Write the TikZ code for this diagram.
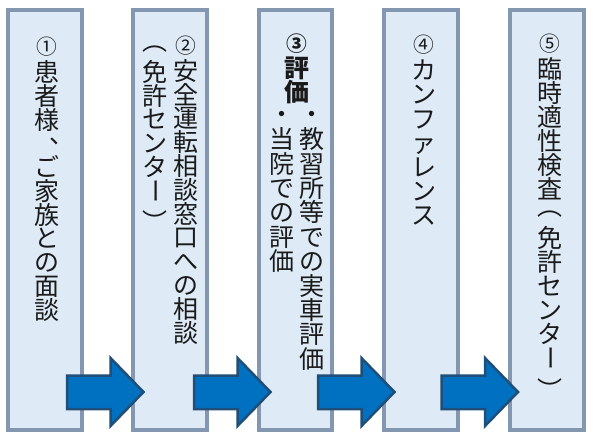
\documentclass[tikz,border=0pt]{standalone}
\usepackage{fontspec}
\usepackage{graphicx}
\newfontfamily\jp{Noto Sans CJK JP}
\definecolor{boxfill}{HTML}{DEEBF7}
\definecolor{boxborder}{HTML}{8497B0}
\definecolor{arrowfill}{HTML}{0070C0}
\definecolor{arrowborder}{HTML}{1F4E79}
\definecolor{textcol}{HTML}{1A1A1A}
\newcommand\vrot[1]{\rotatebox[origin=c]{-90}{#1}}
\newcommand\vbar{\raisebox{0.16em}{\vrot{ー}\hspace*{0.28em}}}
\newcommand\vopen{\raisebox{0.28em}{︵}}
\newcommand\vclose{\raisebox{-0.31em}{︶}}
\newcommand\vcomma{\raisebox{0.36em}{\hspace*{1.18em}、}}
\newcommand\cnum[1]{\raisebox{0.12em}{\scalebox{0.83}{#1}}}
\tikzset{
  stage/.style={draw=boxborder, fill=boxfill, line width=4pt, minimum width=73.5pt, minimum height=420pt, inner sep=0pt},
  vcol/.style={font=\jp\fontsize{25}{24}\selectfont, align=center, inner sep=0pt, anchor=north, text=textcol,
    execute at begin node={\setlength{\lineskiplimit}{-30pt}}},
  vdot/.style={font=\jp\fontsize{25}{24}\selectfont, inner sep=0pt, text=textcol},
  blockarrow/.style={draw=arrowborder, fill=arrowfill, line width=2.5pt, line join=miter}
}
\begin{document}
\begin{tikzpicture}[x=1pt,y=-1pt]
\useasboundingbox (0,0) rectangle (593,442);
% stages
\node[stage] (s1) at (45.2,220.3) {};
\node[stage] (s2) at (170,220.3) {};
\node[stage] (s3) at (295.5,220.3) {};
\node[stage] (s4) at (420.9,220.3) {};
\node[stage] (s5) at (547.2,220.3) {};
% texts
\node[vcol, font=\jp\fontsize{25}{23.75}\selectfont] (t1) at (47,36.75)
  {\vphantom{患}\cnum{①}\\患\\者\\様\\\vcomma\\ご\\家\\族\\と\\の\\面\\談};
\node[vcol, font=\jp\fontsize{25}{23.8}\selectfont] (t2a) at (186,35.2)
  {\vphantom{安}\cnum{②}\\安\\全\\運\\転\\相\\談\\窓\\口\\へ\\の\\相\\談};
\node[vcol, font=\jp\fontsize{25}{23.8}\selectfont] (t2b) at (155,36.2)
  {\vphantom{免}\vopen\\免\\許\\セ\\ン\\タ\\\vbar\\\vclose};
\node[vcol, font=\jp\bfseries\fontsize{25}{23.6}\selectfont] (t3) at (297,33.4)
  {\vphantom{評}\cnum{③}\\評\\価};
\node[vdot] (d3a) at (312,117) {・};
\node[vdot] (d3b) at (282,117) {・};
\node[vcol, font=\jp\fontsize{25}{24.4}\selectfont] (t3a) at (312,127.5)
  {教\\習\\所\\等\\で\\の\\実\\車\\評\\価};
\node[vcol, font=\jp\fontsize{25}{24.4}\selectfont] (t3b) at (282,127.5)
  {当\\院\\で\\の\\評\\価};
\node[vcol, font=\jp\fontsize{25}{24.2}\selectfont] (t4) at (424,34.8)
  {\vphantom{カ}\cnum{④}\\カ\\ン\\フ\\ァ\\レ\\ン\\ス};
\node[vcol, font=\jp\fontsize{25}{24.1}\selectfont] (t5) at (550,33)
  {\vphantom{臨}\cnum{⑤}\\臨\\時\\適\\性\\検\\査\\\vopen\\免\\許\\セ\\ン\\タ\\\vbar\\\vclose};
% arrows
\foreach \x in {67,194,318,441.5}{
  \draw[blockarrow] (\x,375.5) -- (\x+43.5,375.5) -- (\x+43.5,358) -- (\x+76.5,392)
    -- (\x+43.5,426) -- (\x+43.5,409) -- (\x,409) -- cycle;
}
\end{tikzpicture}
\end{document}
